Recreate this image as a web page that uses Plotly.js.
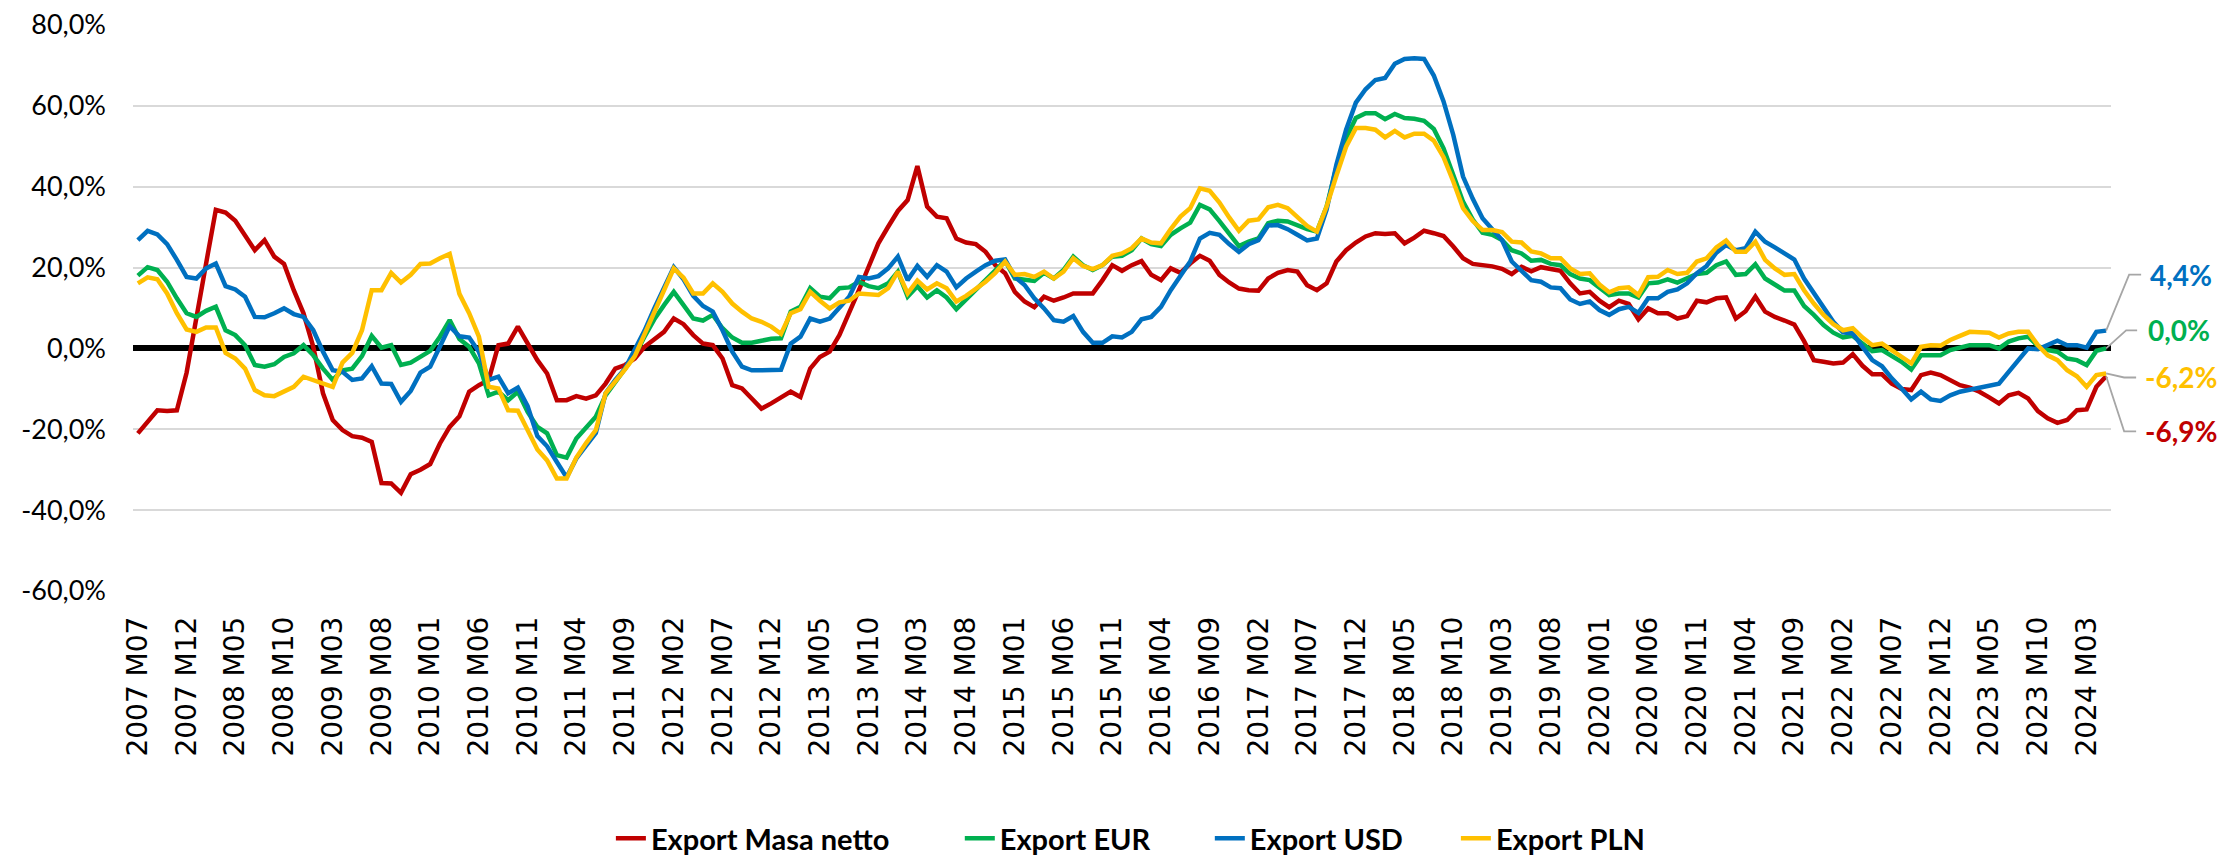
<!DOCTYPE html>
<html><head><meta charset="utf-8">
<script src="https://cdn.plot.ly/plotly-3.0.1.min.js"></script>
<style>html,body{margin:0;padding:0;background:#fff;}#chart{width:2223px;height:862px;}</style>
</head><body><div id="chart"></div>
<script>
// ---- categories (monthly, 2007 M07 .. 2024 M05) ----
const startYear = 2007, startMonth = 7, monthCount = 203;
const months = [];
for (let k = 0; k < monthCount; k++) {
  const m = (startMonth - 1 + k) % 12 + 1;
  const y = startYear + Math.floor((startMonth - 1 + k) / 12);
  months.push(y + ' M' + (m < 10 ? '0' : '') + m);
}
const tickLabels = months.filter((_, k) => k % 5 === 0);
const yTicks = [-60, -40, -20, 0, 20, 40, 60, 80];

// ---- series (y/y change, %) ----
const exportMasaNetto = [
-21.0,-18.2,-15.3,-15.5,-15.3,-6.0,8.0,21.0,34.3,33.6,
31.6,28.1,24.3,26.8,22.7,20.9,14.4,8.7,0.4,-11.1,
-17.7,-20.2,-21.7,-22.1,-23.1,-33.3,-33.4,-35.7,-31.1,-30.0,
-28.6,-23.5,-19.4,-16.8,-10.7,-9.1,-7.8,0.8,1.2,5.4,
1.2,-2.9,-6.2,-12.8,-12.8,-11.8,-12.4,-11.6,-8.7,-5.0,
-4.1,-2.5,0.4,2.1,4.1,7.4,6.0,3.3,1.2,0.8,
-2.5,-9.1,-9.9,-12.4,-14.9,-13.6,-12.2,-10.7,-12.0,-5.0,
-2.1,-0.8,3.3,8.7,14.4,20.2,26.0,30.1,34.0,36.7,
45.1,35.1,32.6,32.2,27.2,26.2,25.8,23.9,20.6,18.6,
14.0,11.6,10.2,12.8,11.8,12.6,13.6,13.6,13.6,16.9,
20.6,19.2,20.6,21.6,18.2,16.9,19.8,18.7,21.0,22.9,
21.7,18.2,16.3,14.8,14.4,14.3,17.3,18.7,19.4,19.0,
15.6,14.4,16.1,21.5,24.3,26.2,27.7,28.5,28.3,28.5,
26.0,27.4,29.1,28.5,27.8,25.2,22.3,20.9,20.6,20.3,
19.7,18.4,20.2,19.1,20.1,19.6,19.2,16.1,13.6,14.0,
11.8,10.2,11.8,11.0,7.2,9.9,8.7,8.7,7.4,8.0,
11.8,11.4,12.4,12.6,7.4,9.2,12.8,9.1,7.8,6.9,
5.9,1.8,-2.9,-3.3,-3.7,-3.5,-1.4,-4.3,-6.4,-6.4,
-8.7,-10.0,-10.3,-6.6,-6.0,-6.6,-7.8,-9.1,-9.7,-10.7,
-12.1,-13.6,-11.6,-11.0,-12.4,-15.5,-17.3,-18.4,-17.7,-15.3,
-15.1,-9.5,-6.9
];
const exportEUR = [
18.0,20.1,19.4,16.5,12.4,8.7,7.8,9.3,10.3,4.5,
3.3,0.8,-4.1,-4.5,-3.9,-2.1,-1.2,0.8,-1.7,-5.0,
-7.8,-5.4,-5.0,-1.9,3.1,0.2,0.8,-4.1,-3.5,-1.9,
-0.6,2.9,7.0,2.3,0.4,-3.7,-11.6,-10.7,-12.8,-10.7,
-15.7,-19.4,-21.0,-26.4,-27.0,-22.3,-19.4,-16.9,-11.6,-8.3,
-5.0,-1.7,2.9,7.2,10.7,14.0,10.7,7.4,6.9,8.3,
5.0,2.7,1.4,1.4,1.9,2.4,2.5,9.1,10.3,14.9,
12.8,12.4,14.9,15.1,16.5,15.4,14.9,16.1,19.0,12.8,
15.4,12.6,14.4,12.6,9.7,12.1,14.3,16.8,19.2,21.7,
17.3,17.1,16.7,18.7,17.3,19.4,22.7,20.6,19.4,20.6,
22.7,22.9,24.3,27.2,25.8,25.3,28.1,29.7,31.1,35.5,
34.4,31.5,28.5,25.3,26.4,27.2,31.0,31.6,31.4,30.5,
29.5,28.9,35.1,44.8,52.0,57.0,58.2,58.2,56.7,58.0,
57.0,56.8,56.3,54.3,49.5,42.9,36.3,31.9,28.6,28.1,
26.8,24.3,23.5,21.7,21.9,20.9,20.6,18.4,17.3,16.9,
15.1,13.2,13.6,13.6,12.6,16.1,16.3,17.1,16.3,17.3,
18.4,18.7,20.6,21.5,18.2,18.4,20.8,17.3,15.7,14.3,
14.3,10.5,8.3,5.8,3.9,2.7,3.1,1.1,-0.7,-0.4,
-1.9,-3.3,-5.2,-1.7,-1.7,-1.7,-0.4,0.2,0.8,0.8,
0.8,0.0,1.7,2.5,2.9,0.6,-0.4,-0.8,-2.5,-2.9,
-4.1,-0.6,0.0
];
const exportUSD = [
26.8,29.1,28.2,25.8,21.9,17.7,17.3,19.8,21.0,15.4,
14.6,12.8,7.8,7.7,8.7,9.9,8.5,7.8,4.5,-0.8,
-5.4,-5.8,-7.8,-7.4,-4.4,-8.7,-8.8,-13.2,-10.5,-6.0,
-4.5,0.4,5.5,3.0,2.7,-0.8,-7.8,-7.0,-11.1,-9.7,
-14.3,-21.7,-24.2,-28.1,-31.9,-27.2,-24.1,-20.9,-11.1,-7.8,
-5.0,-0.4,4.4,9.9,14.9,20.1,17.1,13.0,10.5,9.1,
4.5,-0.8,-4.5,-5.4,-5.4,-5.4,-5.3,1.2,2.9,7.4,
6.6,7.4,10.3,12.8,17.7,17.3,17.9,19.8,22.7,16.9,
20.4,17.7,20.6,19.0,15.1,17.3,19.0,20.6,21.7,22.0,
17.7,15.7,12.4,9.9,7.0,6.6,8.0,4.1,1.4,1.4,
3.0,2.7,4.1,7.2,7.8,10.3,14.4,17.9,21.5,27.2,
28.6,28.1,25.8,23.9,25.8,26.8,30.4,30.5,29.5,28.1,
26.7,27.2,34.3,45.4,54.1,60.8,64.1,66.4,66.9,70.4,
71.6,71.8,71.6,67.5,61.1,52.8,42.5,37.0,32.2,29.5,
26.8,21.5,19.0,16.9,16.5,15.1,14.9,12.1,11.0,11.6,
9.5,8.3,9.7,10.3,8.8,12.4,12.4,14.0,14.6,16.1,
18.6,20.4,23.7,25.6,24.3,24.8,28.9,26.4,25.0,23.4,
22.0,17.3,13.8,9.9,6.6,4.0,3.7,0.4,-2.9,-4.4,
-7.4,-9.9,-12.6,-10.7,-12.6,-13.0,-11.6,-10.7,-10.2,-9.9,
-9.3,-8.7,-5.8,-2.9,0.0,-0.2,0.8,1.9,0.8,0.8,
0.2,4.1,4.4
];
const exportPLN = [
16.1,17.6,17.1,13.6,8.7,4.7,4.1,5.2,5.2,-1.1,
-2.5,-5.0,-10.3,-11.6,-11.8,-10.7,-9.5,-7.0,-7.8,-8.8,
-9.5,-3.5,-1.1,4.5,14.4,14.4,18.7,16.3,18.2,20.9,
21.0,22.3,23.4,13.5,8.7,2.9,-9.5,-9.9,-15.3,-15.4,
-20.2,-25.0,-27.7,-32.2,-32.2,-27.0,-23.4,-20.2,-11.1,-8.3,
-5.2,-1.9,3.5,9.3,14.4,19.8,17.5,13.6,13.6,16.1,
14.0,11.1,9.1,7.4,6.6,5.4,3.6,8.7,9.7,14.0,
11.8,9.9,11.4,11.8,13.6,13.5,13.2,14.9,19.0,13.6,
16.8,14.6,16.1,14.9,11.6,13.0,14.7,16.5,18.7,21.5,
18.2,18.4,17.7,19.0,17.3,19.0,22.3,20.4,19.6,20.6,
22.9,23.5,24.8,27.2,26.2,26.0,29.5,32.6,34.7,39.6,
39.0,36.1,32.4,29.1,31.6,31.9,34.9,35.5,34.7,32.4,
30.3,28.9,35.1,42.7,49.9,54.5,54.5,54.1,52.2,53.8,
52.2,53.1,53.1,51.4,47.3,41.3,34.7,31.5,29.3,29.3,
28.8,26.4,26.2,24.0,23.5,22.3,22.3,19.8,18.4,18.6,
15.8,13.9,14.9,15.1,13.2,17.6,17.7,19.4,18.4,18.7,
21.5,22.3,25.0,26.7,23.9,23.9,26.4,21.9,19.8,18.2,
18.4,14.4,11.1,8.3,6.0,4.5,5.0,2.7,0.8,1.2,
-0.4,-1.9,-3.7,0.4,0.8,0.7,2.1,3.1,4.1,4.0,
3.9,2.7,3.7,4.1,4.1,0.8,-1.7,-2.9,-5.4,-6.9,
-9.5,-6.6,-6.2
];

const seriesNames = ['Export Masa netto', 'Export EUR', 'Export USD', 'Export PLN'];
const seriesValues = [exportMasaNetto, exportEUR, exportUSD, exportPLN];
const seriesColors = ['#C00000', '#00B050', '#0070C0', '#FFC000'];
const legendIds = ['legend', 'legend2', 'legend3', 'legend4'];
const legendX = [0.2416, 0.4180, 0.5444, 0.6688];
// end-label leader offsets in pixels: [elbowX, elbowY(up), endX, textX]
const labelOffsets = [[18, -55, 30, 37], [20, 18, 31, 40], [23, 56, 35, 42], [18, -4, 30, 37]];

const fmt = v => v.toFixed(1).replace('.', ',') + '%';

const traces = seriesValues.map((vals, s) => ({
  type: 'scatter', mode: 'lines', name: seriesNames[s],
  x: months, y: vals, legend: legendIds[s],
  line: { color: seriesColors[s], width: 4.5 },
  hoverinfo: 'skip'
}));

const lastCat = months[monthCount - 1];
const lastFrac = (monthCount - 0.5) / monthCount;
const shapes = [], annotations = [];
seriesValues.forEach((vals, s) => {
  const last = vals[vals.length - 1];
  const [ex, ey, endx, tx] = labelOffsets[s];
  shapes.push({
    type: 'path', xref: 'paper', yref: 'y', xsizemode: 'pixel', ysizemode: 'pixel',
    xanchor: lastFrac, yanchor: last,
    path: `M0,0 L${ex},${ey} L${endx},${ey}`,
    line: { color: '#A6A6A6', width: 1.8 }, layer: 'above'
  });
  annotations.push({
    x: lastCat, y: last, xref: 'x', yref: 'y', showarrow: false,
    xanchor: 'left', yanchor: 'middle', xshift: tx, yshift: ey,
    text: fmt(last),
    font: { family: 'Lato, sans-serif', size: 28, color: seriesColors[s], weight: 'bold' }
  });
});

const layout = {
  width: 2223, height: 862,
  margin: { l: 133, r: 112, t: 25, b: 271, autoexpand: false },
  paper_bgcolor: '#fff', plot_bgcolor: '#fff',
  showlegend: true,
  xaxis: {
    type: 'category', categoryorder: 'array', categoryarray: months,
    range: [-0.5, monthCount - 0.5], automargin: false,
    tickmode: 'array', tickvals: tickLabels, ticktext: tickLabels,
    tickangle: -90, ticks: '', showgrid: false, zeroline: false, showline: false,
    ticklabelstandoff: 19,
    tickfont: { family: 'DejaVu Sans, sans-serif', size: 28, color: '#000' }
  },
  yaxis: {
    range: [-60, 80], automargin: false,
    tickmode: 'array', tickvals: yTicks, ticktext: yTicks.map(fmt),
    showgrid: true, gridcolor: '#D9D9D9', gridwidth: 2,
    zeroline: true, zerolinecolor: '#000', zerolinewidth: 6,
    showline: false, ticks: '', ticklabelstandoff: 26,
    tickfont: { family: 'Lato, sans-serif', size: 27, color: '#000' }
  },
  shapes: shapes,
  annotations: annotations
};
legendIds.forEach((id, s) => {
  layout[id] = {
    orientation: 'h', x: legendX[s], xanchor: 'left', y: -0.437, yanchor: 'middle',
    bgcolor: 'rgba(0,0,0,0)',
    font: { family: 'Lato, sans-serif', size: 29, color: '#000', weight: 'bold' }
  };
});

Plotly.newPlot('chart', traces, layout, { staticPlot: true, displayModeBar: false });
</script>
</body></html>
